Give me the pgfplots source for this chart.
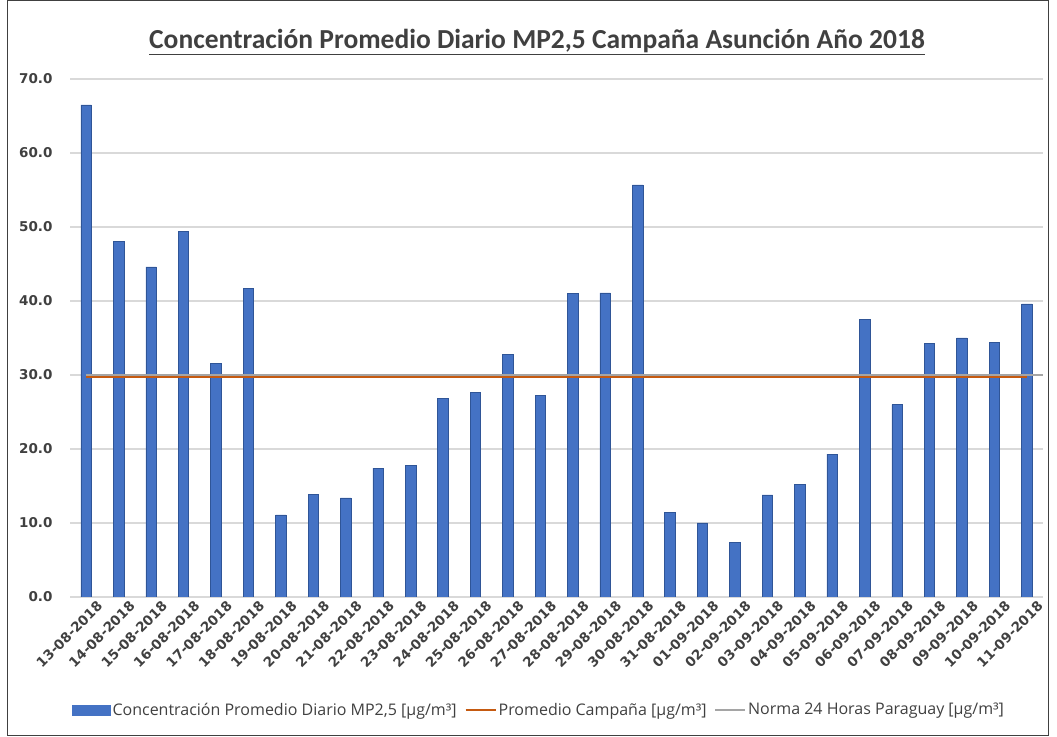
\documentclass[border=0pt]{standalone}
\usepackage{fontspec}
\setmainfont{Open Sans}
\newfontfamily\titlefont{Carlito}
\newfontfamily\tickfont{DejaVu Sans}
\usepackage{pgfplots}
\pgfplotsset{compat=1.18}
\definecolor{barblue}{HTML}{4472C4}
\definecolor{baredge}{HTML}{2F5597}
\definecolor{promorange}{HTML}{C55A11}
\definecolor{normgray}{HTML}{A5A5A5}
\definecolor{txtgray}{HTML}{404040}
\definecolor{gridgray}{HTML}{D9D9D9}

\begin{document}
\begin{tikzpicture}
% chart frame, 1px = 1pt
\path[use as bounding box] (0pt,0pt) rectangle (1057pt,736pt);
\draw[line width=1.2pt, black!75] (7.5pt,0.8pt) rectangle (1048.5pt,735.2pt);
\node[font=\titlefont\bfseries\fontsize{27.5}{32}\selectfont, text=black!75] at (537pt,694pt)
  {\underline{Concentración Promedio Diario MP2,5 Campaña Asunción Año 2018}};
\begin{axis}[
  at={(70pt,139pt)}, anchor=south west,
  scale only axis, width=973pt, height=518pt,
  ymin=0, ymax=70, ytick={0,10,...,70},
  xmin=-0.5, xmax=29.5,
  xtick={0,...,29},
  xticklabels={13-08-2018,14-08-2018,15-08-2018,16-08-2018,17-08-2018,18-08-2018,19-08-2018,20-08-2018,21-08-2018,22-08-2018,23-08-2018,24-08-2018,25-08-2018,26-08-2018,27-08-2018,28-08-2018,29-08-2018,30-08-2018,31-08-2018,01-09-2018,02-09-2018,03-09-2018,04-09-2018,05-09-2018,06-09-2018,07-09-2018,08-09-2018,09-09-2018,10-09-2018,11-09-2018},
  x tick label style={rotate=45, anchor=north east, inner sep=1pt, yshift=-8pt, xshift=6pt,
    font=\tickfont\bfseries\fontsize{13.5}{16}\selectfont, text=txtgray},
  y tick label style={font=\tickfont\bfseries\fontsize{13.5}{16}\selectfont, text=txtgray, xshift=-14pt},
  /pgf/number format/assume math mode=true,
  yticklabel style={/pgf/number format/.cd, fixed, fixed zerofill, precision=1},
  ymajorgrids, grid style={gridgray, line width=1.2pt},
  axis line style={draw=none}, major tick length=0pt,
  legend style={at={(0.482,-0.218)}, anchor=center, draw=none, fill=none,
    font=\fontsize{16}{19}\selectfont, text=txtgray, legend columns=3,
    /tikz/every even column/.append style={column sep=6pt}},
  legend cell align=left,
]
\addplot[ybar, bar width=10.5pt, fill=barblue, draw=baredge, line width=0.6pt,
  legend image code/.code={\draw[fill=barblue, draw=barblue] (0pt,-5pt) rectangle (38pt,5pt);}]
  coordinates {
  (0,66.5) (1,48.1) (2,44.6) (3,49.4) (4,31.6) (5,41.7) (6,11.1) (7,13.9) (8,13.4) (9,17.4)
  (10,17.8) (11,26.8) (12,27.6) (13,32.8) (14,27.2) (15,41.0) (16,41.1) (17,55.7) (18,11.4) (19,10.0)
  (20,7.4) (21,13.8) (22,15.2) (23,19.3) (24,37.5) (25,26.0) (26,34.3) (27,35.0) (28,34.4) (29,39.6)};
\addlegendentry{Concentración Promedio Diario MP2,5 [µg/m³]}
\addplot[promorange, line width=2pt,
  legend image code/.code={\draw[promorange, line width=2pt] (0pt,0pt) -- (30pt,0pt);}]
  coordinates {(0,29.7) (29,29.7)};
\addlegendentry{Promedio Campaña [µg/m³]}
\addplot[normgray, line width=1.5pt,
  legend image code/.code={\draw[normgray, line width=1.5pt] (0pt,0pt) -- (30pt,0pt);}]
  coordinates {(0,30) (29.5,30)};
\addlegendentry{Norma 24 Horas Paraguay [µg/m³]}
\end{axis}
\end{tikzpicture}
\end{document}
